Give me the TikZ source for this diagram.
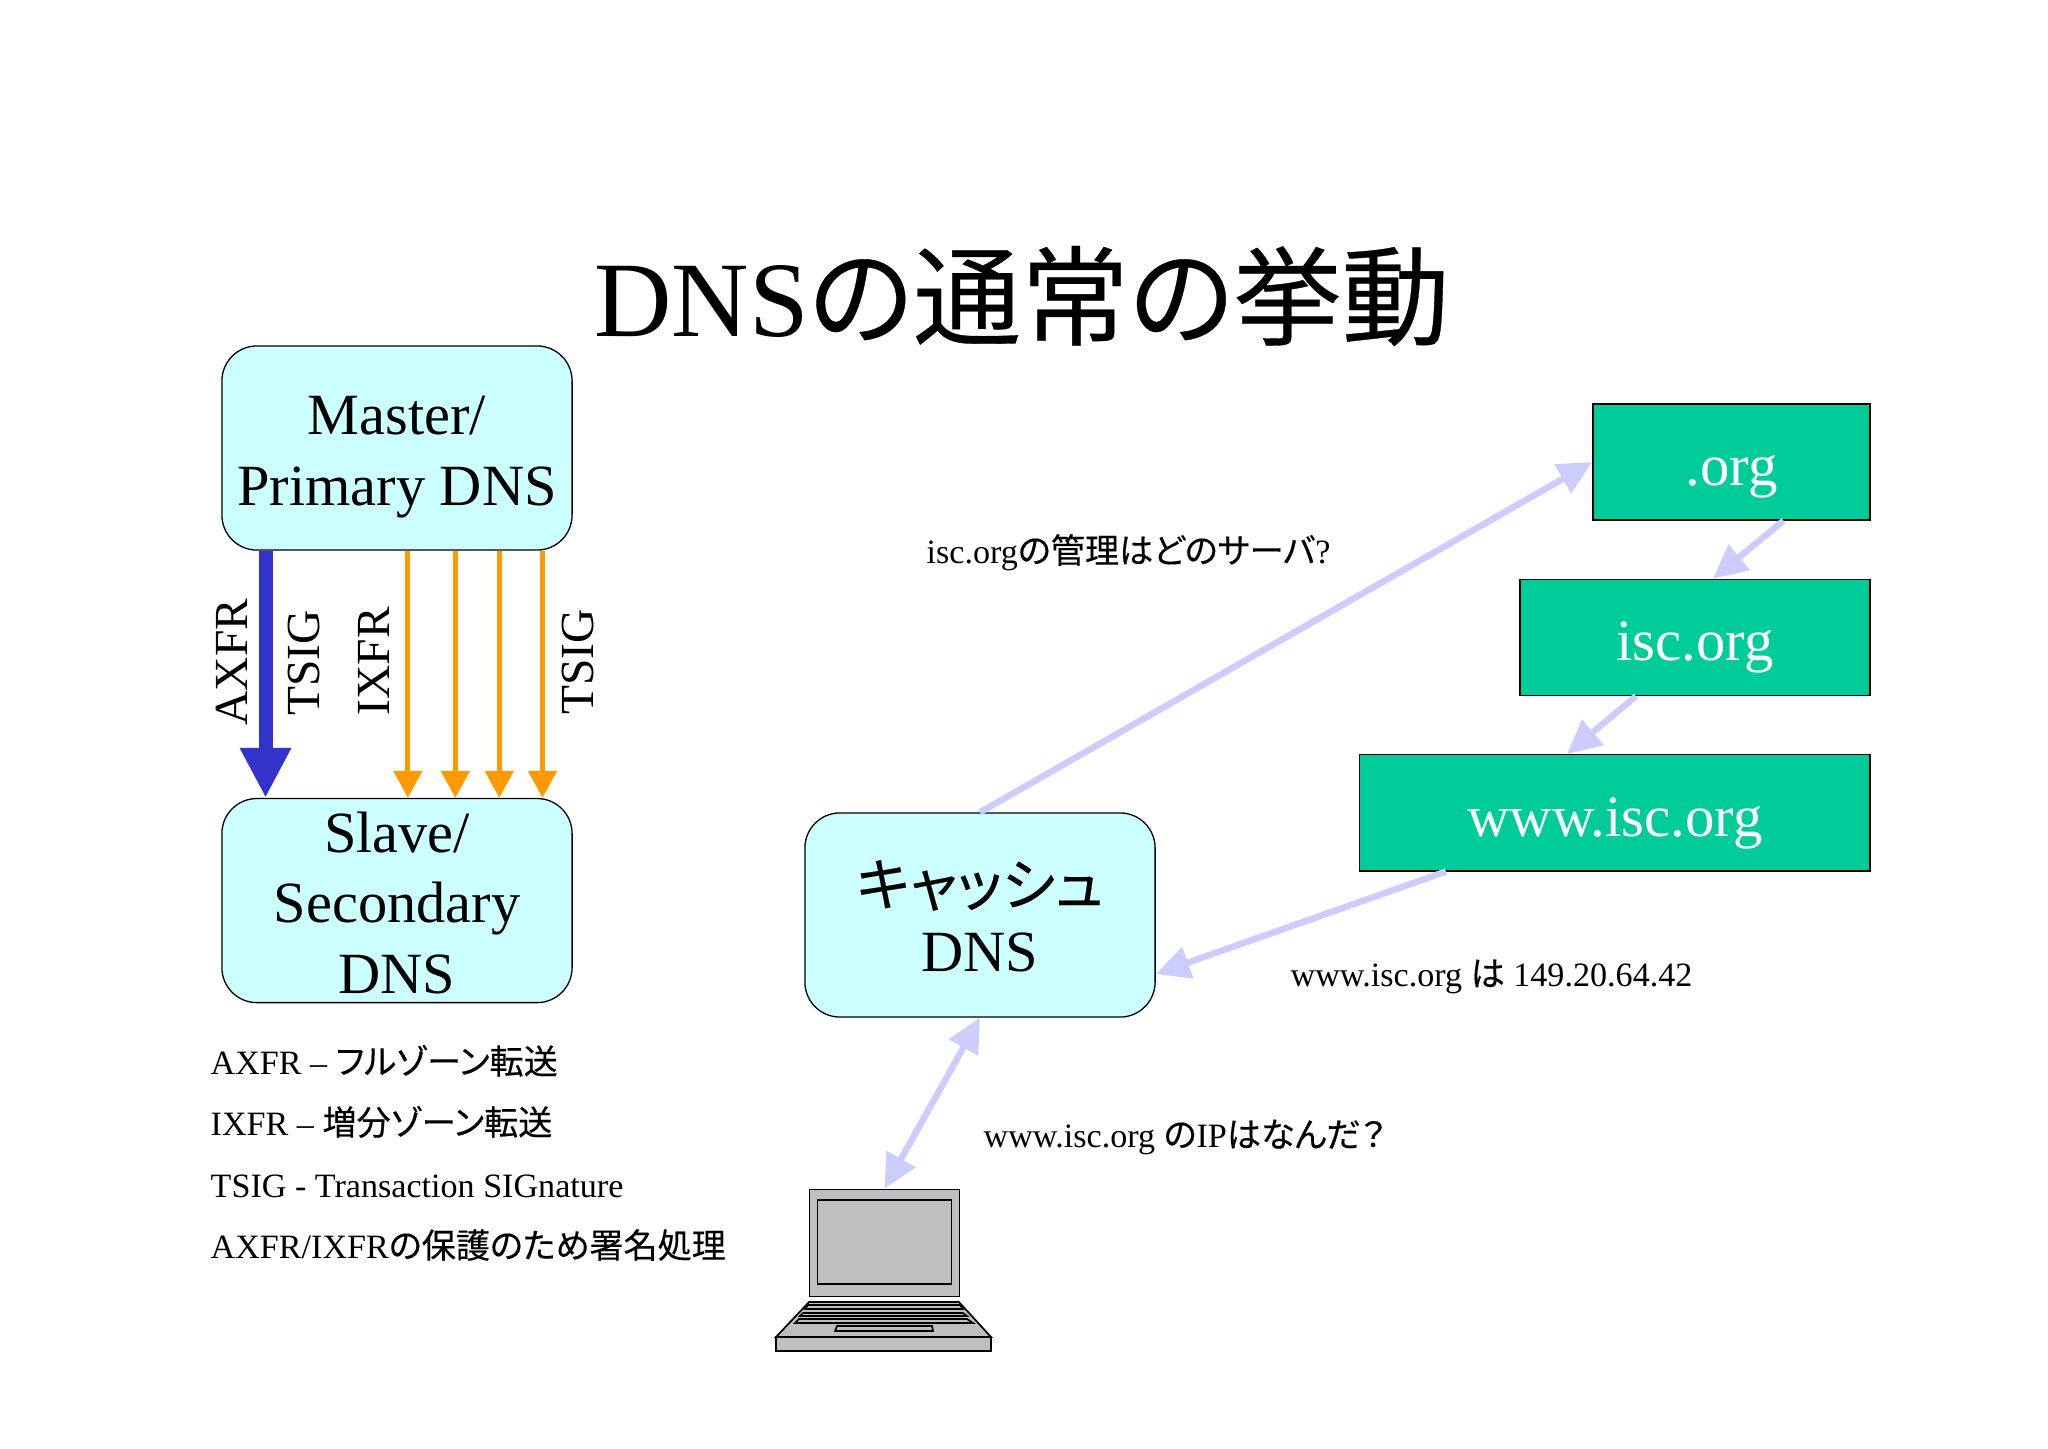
\documentclass[tikz,border=0pt]{standalone}
\usepackage{fontspec}
\setmainfont{Liberation Serif}
\newfontfamily\cjk[FakeBold=0.3,RawFeature=+palt]{Noto Sans CJK JP}
\usetikzlibrary{arrows.meta,positioning,calc}
\definecolor{dnsfill}{HTML}{CCFFFF}
\definecolor{zonefill}{HTML}{00CC99}
\definecolor{axfrblue}{HTML}{3333CC}
\definecolor{ixfrorange}{HTML}{FF9900}
\definecolor{querylight}{HTML}{CCCCFF}
\definecolor{pcgray}{HTML}{C0BEC0}
\newcommand{\toppad}[1]{\rule{0pt}{#1}}

\begin{document}
\begin{tikzpicture}[x=0.01cm,y=-0.01cm,node distance=2.47cm]

	\tikzstyle{dns}   = [rectangle, rounded corners=0.35cm, draw=black, line width=0.013cm, fill=dnsfill, minimum width=3.5cm, minimum height=2.04cm, inner sep=0pt, align=center, font=\fontsize{16.6}{20.1}\selectfont]
	\tikzstyle{zone}  = [rectangle, draw=black, line width=0.013cm, fill=zonefill, text=white, minimum height=1.16cm, inner sep=0pt, text height=0.59cm, text depth=0.125cm, font=\fontsize{16.7}{20.1}\selectfont]
	\tikzstyle{vert}  = [rotate=90, inner sep=0pt, font=\fontsize{13.5}{16}\selectfont]
	\tikzstyle{small} = [anchor=base west, inner sep=0pt, font=\fontsize{9.7}{12}\selectfont]
	\tikzstyle{axfr}  = [axfrblue, line width=0.14cm, -{Triangle[length=0.5cm,width=0.48cm]}]
	\tikzstyle{ixfr}  = [ixfrorange, line width=0.05cm, -{Triangle[length=0.27cm,width=0.28cm]}]
	\tikzstyle{query} = [querylight, line width=0.065cm, -{Triangle[length=0.34cm,width=0.32cm]}]
	\tikzstyle{pc}    = [draw=black, line width=0.017cm, fill=pcgray]

	\useasboundingbox (0,0) rectangle (2048,1448);

	\node [font=\fontsize{30.5}{36}\selectfont, inner sep=0pt] (title) at (1022,296) {DNS{\cjk\fontsize{30.75}{36}\selectfont の通常の挙動}};

	\node [dns] (master) at (397,448) {\toppad{0.56cm}Master/\\Primary DNS};
	\node [dns, below=of master] (slave) {\toppad{0.45cm}Slave/\\Secondary\\DNS};
	\node [dns] (cache) at (980,915) {\toppad{0.475cm}{\cjk\fontsize{16.3}{20.1}\selectfont キャッシュ}\\[-0.05cm]DNS};

	\node [zone, minimum width=2.77cm] (org) at (1731.5,462) {.org};
	\node [zone, minimum width=3.5cm, below=0.58cm of org, xshift=-0.365cm] (isc) {isc.org};
	\node [zone, minimum width=5.1cm, below=0.58cm of isc, xshift=-0.8cm] (www) {www.isc.org};

	% laptop
	\node [pc, rectangle, minimum width=1.5cm, minimum height=1.07cm] (laptop) at (884.5,1243) {};
	\node [pc, rectangle, minimum width=1.34cm, minimum height=0.84cm] (screen) at (884.5,1242) {};
	\draw [pc] (809,1302) -- (959,1302) -- (991,1337) -- (776,1337) -- cycle;
	\draw [pc] (776,1337) rectangle (991,1351);
	\foreach \ya/\yb/\xa/\xb/\xc/\xd in {1305/1309/808/960/805/963, 1313/1316/803/963/800/967, 1319/1323/799/967/795/973, 1326/1331/837/932/835/933}
		\draw [pc] (\xa,\ya) -- (\xb,\ya) -- (\xd,\yb) -- (\xc,\yb) -- cycle;

	% zone transfer
	\draw [axfr] ($(master.south west)!0.126!(master.south east)$) -- ($(slave.north west)!0.126!(slave.north east)$);
	\foreach \t in {0.531,0.666,0.791,0.914}
		\draw [ixfr] ($(master.south west)!\t!(master.south east)$) -- ($(slave.north west)!\t!(slave.north east)$);

	\node [vert] (axfrlabel) at (232,662) {AXFR};
	\node [vert] (tsigleft) at (304,663) {TSIG};
	\node [vert] (ixfrlabel) at (374,661) {IXFR};
	\node [vert] (tsigright) at (578,662) {TSIG};

	% query
	\draw [query] (cache.north) -- (org.west);
	\draw [query] ($(org.south)+(52,0)$) -- ($(isc.north)+(18,0)$);
	\draw [query] ($(isc.south)+(-59,0)$) -- ($(www.north)+(-48,0)$);
	\draw [query] ($(www.south)+(-169,0)$) -- ($(cache.east)+(0,59)$);
	\draw [query, {Triangle[length=0.34cm,width=0.32cm]}-{Triangle[length=0.34cm,width=0.32cm]}] (cache.south) -- (laptop.north);

	\node [small] (askorg) at (926,563) {isc.org{\cjk の管理はどのサーバ}?};
	\node [small] (answer) at (1290,986) {www.isc.org {\cjk は} 149.20.64.42};
	\node [small] (askip) at (983,1147) {www.isc.org {\cjk の}IP{\cjk はなんだ？}};

	\node [small] (noteaxfr) at (210,1074) {AXFR – {\cjk フルゾーン転送}};
	\node [small] (noteixfr) at (210,1135) {IXFR – {\cjk 増分ゾーン転送}};
	\node [small] (notetsig) at (210,1197) {TSIG - Transaction SIGnature};
	\node [small] (noteguard) at (210,1258) {AXFR/IXFR{\cjk の保護のため署名処理}};

\end{tikzpicture}
\end{document}
